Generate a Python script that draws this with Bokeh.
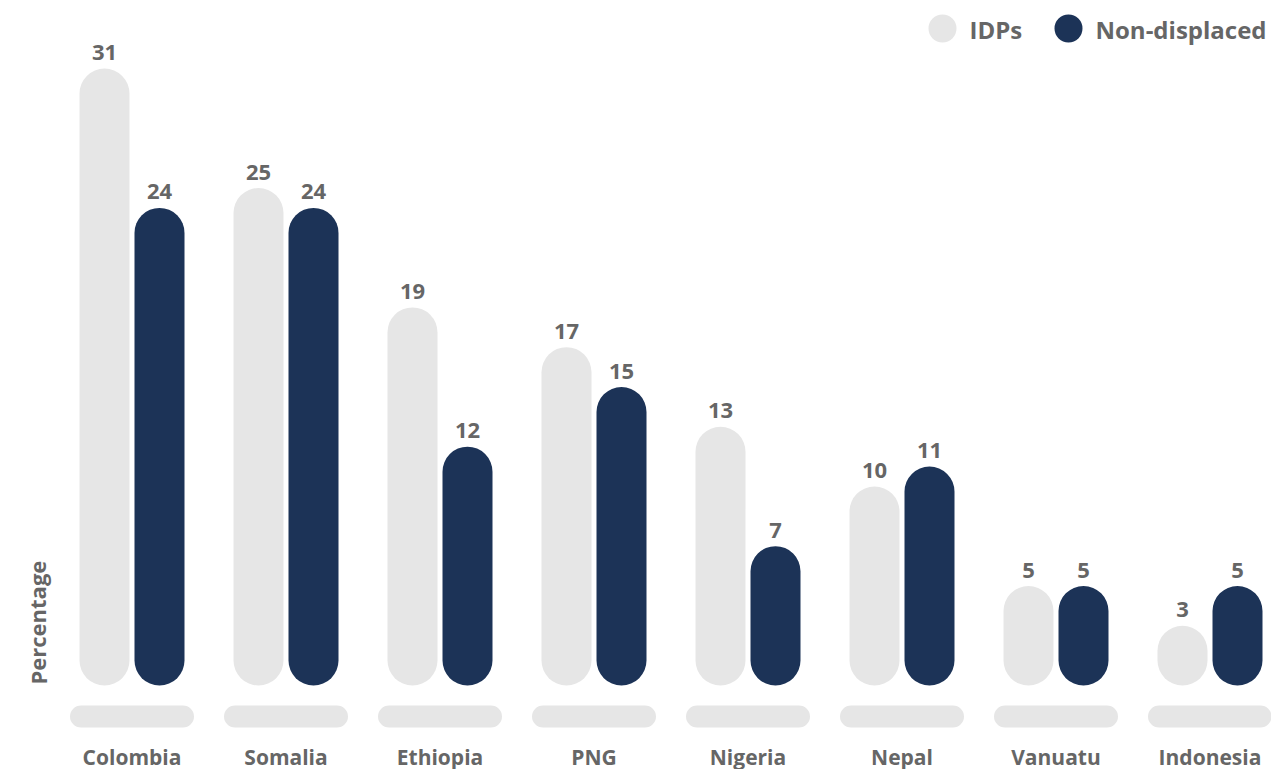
from bokeh.plotting import figure
from bokeh.models import Range1d, FixedTicker, Label, ColumnDataSource
from bokeh.transform import dodge
from bokeh.core.properties import value
from bokeh.embed import file_html
from bokeh.resources import INLINE

# ---- data ----
countries = ["Colombia", "Somalia", "Ethiopia", "PNG", "Nigeria", "Nepal", "Vanuatu", "Indonesia"]
idps = [31, 25, 19, 17, 13, 10, 5, 3]
non_displaced = [24, 24, 12, 15, 7, 11, 5, 5]
series_names = ["IDPs", "Non-displaced"]

# ---- style ----
FONT = "Open Sans"
TXT = "#666666"
GREY = "#e6e6e6"
NAVY = "#1c3357"
colors = [GREY, NAVY]

FRAME_W, FRAME_H = 1271, 735
PX_PER_CAT = 154.0
PX_PER_UNIT = 19.9
ZERO_PX = 685          # baseline position from frame top
FIRST_CENTER_PX = 131.5

idx = list(range(len(countries)))
src = ColumnDataSource(dict(
    x=idx, country=countries, idps=idps, nd=non_displaced,
    idps_txt=[str(v) for v in idps], nd_txt=[str(v) for v in non_displaced],
    pill_top=[-(716 - 11 - ZERO_PX) / PX_PER_UNIT] * len(idx),
    pill_bot=[-(716 + 11 - ZERO_PX) / PX_PER_UNIT] * len(idx),
))

x0 = -FIRST_CENTER_PX / PX_PER_CAT
x1 = (FRAME_W - FIRST_CENTER_PX) / PX_PER_CAT
y1 = ZERO_PX / PX_PER_UNIT
y0 = y1 - FRAME_H / PX_PER_UNIT

p = figure(frame_width=FRAME_W, frame_height=FRAME_H,
           x_range=Range1d(x0, x1), y_range=Range1d(y0, y1),
           y_axis_location=None, toolbar_location=None,
           output_backend="svg",
           min_border_left=0, min_border_right=0, min_border_top=0, min_border_bottom=34)
p.outline_line_color = None
p.grid.visible = False
p.background_fill_color = "white"
p.border_fill_color = "white"

bar_w = 50 / PX_PER_CAT
off = 27.5 / PX_PER_CAT

# category base pills
p.vbar(x="x", top="pill_top", bottom="pill_bot", width=124 / PX_PER_CAT, source=src,
       fill_color=GREY, line_color=None, border_radius=11)

# bars
p.vbar(x=dodge("x", -off), top="idps", bottom=0, width=bar_w, source=src,
       fill_color=colors[0], line_color=None, border_radius=25)
p.vbar(x=dodge("x", off), top="nd", bottom=0, width=bar_w, source=src,
       fill_color=colors[1], line_color=None, border_radius=25)

# value labels
for fld, txt, o in (("idps", "idps_txt", -off), ("nd", "nd_txt", off)):
    p.text(x=dodge("x", o), y=fld, text=txt, source=src,
           text_align="center", text_baseline="middle", y_offset=-16,
           text_font=value(FONT), text_font_style="bold",
           text_font_size="22px", text_color=TXT)

# x axis
ax = p.xaxis[0]
ax.ticker = FixedTicker(ticks=idx)
ax.major_label_overrides = {i: c for i, c in zip(idx, countries)}
ax.axis_line_color = None
ax.major_tick_line_color = None
ax.minor_tick_line_color = None
ax.major_tick_out = 0
ax.major_tick_in = 0
ax.major_label_standoff = 7
ax.major_label_text_font = FONT
ax.major_label_text_font_style = "bold"
ax.major_label_text_font_size = "21px"
ax.major_label_text_color = TXT

# y label "Percentage"
p.add_layout(Label(x=37, y=FRAME_H - 684, x_units="screen", y_units="screen",
                   text="Percentage", angle=1.5708, text_align="left",
                   text_baseline="middle", text_font=FONT, text_font_style="bold",
                   text_font_size="22px", text_color=TXT))

# legend
leg_x = [(942 - FIRST_CENTER_PX) / PX_PER_CAT, (1068 - FIRST_CENTER_PX) / PX_PER_CAT]
leg_y = [y1 - 28 / PX_PER_UNIT] * 2
p.scatter(x=leg_x, y=leg_y, size=28, fill_color=colors, line_color=None)
for sx, name in ((969, series_names[0]), (1095, series_names[1])):
    p.add_layout(Label(x=sx, y=FRAME_H - 29, x_units="screen", y_units="screen",
                       text=name, text_align="left", text_baseline="middle",
                       text_font=FONT, text_font_style="bold",
                       text_font_size="24px", text_color=TXT))

open("out.html", "w").write(file_html(p, INLINE))
